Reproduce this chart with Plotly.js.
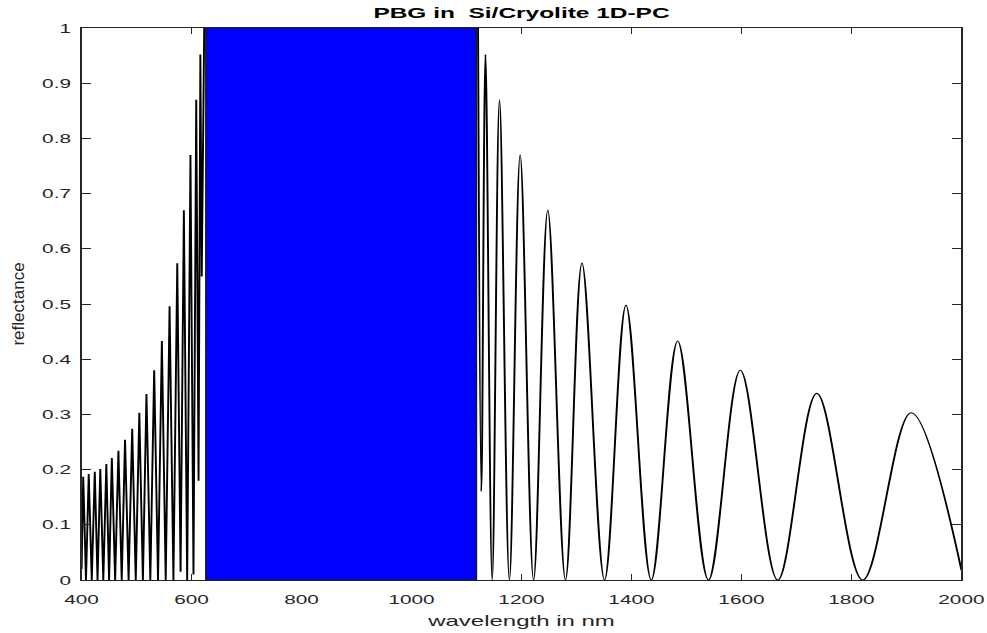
<!DOCTYPE html>
<html>
<head>
<meta charset="utf-8">
<script src="https://cdn.plot.ly/plotly-3.0.1.min.js"></script>
<style>
  html, body { margin: 0; padding: 0; background: #ffffff; overflow: hidden; }
  #wrap { width: 987px; height: 633px; overflow: hidden; }
  #plot { width: 617px; height: 633px; transform: scale(1.59968, 1); transform-origin: 0 0; }
</style>
</head>
<body>
<div id="wrap"><div id="plot"></div></div>
<script>
// Short-wavelength side of the spectrum (fringes up to the band edge and the plateau)
const wlShort = [400, 403, 408, 413, 418.5, 424, 429, 434, 439.5, 445,
                 450, 455, 461, 467, 473, 479, 485.5, 492, 498.5, 505,
                 511.5, 518, 525, 532, 539, 546, 553, 560, 567, 574,
                 580, 586, 592, 598, 603.5, 608.5, 612.7, 616, 618.5, 623,
                 1121];
const rShort = [0.02, 0.187, 0, 0.192, 0, 0.196, 0, 0.201, 0, 0.21,
                0, 0.221, 0, 0.234, 0, 0.254, 0, 0.274, 0, 0.303,
                0, 0.337, 0, 0.38, 0, 0.433, 0, 0.496, 0, 0.574,
                0.015, 0.67, 0, 0.77, 0.01, 0.87, 0.18, 0.952, 0.55, 1,
                1];

// Long-wavelength side of the spectrum (peaks and minima)
const wlLong = [1121, 1127, 1134.5, 1146.7, 1160, 1178, 1197.6, 1222,
                1247.8, 1280, 1310, 1351, 1390, 1436, 1484, 1540,
                1598, 1666, 1737, 1820.6, 1908.5, 2000];
const rLong = [1, 0.16, 0.952, 0, 0.87, 0, 0.77, 0,
               0.67, 0, 0.574, 0, 0.498, 0, 0.433, 0,
               0.38, 0, 0.338, 0, 0.303, 0.018];

// Photonic band gap
const gapEdges = [626, 1118];
const gapReflectance = [0, 1];

// Ticks
const xTickVals = [400, 600, 800, 1000, 1200, 1400, 1600, 1800, 2000];
const xTickText = ['400', '600', '800', '1000', '1200', '1400', '1600', '1800', '2000'];
const yTickVals = [0, 0.1, 0.2, 0.3, 0.4, 0.5, 0.6, 0.7, 0.8, 0.9, 1];
const yTickText = ['0', '0.1', '0.2', '0.3', '0.4', '0.5', '0.6', '0.7', '0.8', '0.9', '1'];

const K = 987 / 617;
const axisColor = '#262626';
const fontFam = 'Liberation Sans, Arial, Helvetica, sans-serif';

const traces = [
  { x: wlShort, y: rShort, type: 'scatter', mode: 'lines',
    line: { color: '#000000', width: 1.2, shape: 'linear' }, hoverinfo: 'skip' },
  { x: wlLong, y: rLong, type: 'scatter', mode: 'lines',
    line: { color: '#000000', width: 1.2, shape: 'spline', smoothing: 1 }, hoverinfo: 'skip' }
];

const layout = {
  width: 617, height: 633,
  margin: { l: 51, r: 16, t: 28, b: 53 },
  paper_bgcolor: '#ffffff', plot_bgcolor: '#ffffff',
  showlegend: false,
  font: { family: fontFam, size: 13, color: axisColor },
  title: { text: '<b>PBG in \u00a0Si/Cryolite 1D-PC</b>', font: { family: fontFam, size: 15.3, color: '#000000' },
           x: 0.5, xref: 'paper', xanchor: 'center', y: 1 - 13 / 633, yref: 'container', yanchor: 'middle' },
  xaxis: {
    range: [400, 2000], tickmode: 'array', tickvals: xTickVals, ticktext: xTickText,
    ticks: 'inside', ticklen: 6, tickwidth: 1, tickcolor: axisColor,
    showline: true, linecolor: axisColor, linewidth: 1, mirror: 'ticks',
    showgrid: false, zeroline: false, automargin: false,
    tickfont: { size: 13, color: axisColor }, ticklabelstandoff: 7,
    title: { text: 'wavelength in nm', font: { size: 15, color: axisColor }, standoff: 9 }
  },
  yaxis: {
    range: [0, 1], tickmode: 'array', tickvals: yTickVals, ticktext: yTickText,
    ticks: 'inside', ticklen: 6, tickwidth: 1, tickcolor: axisColor,
    showline: true, linecolor: axisColor, linewidth: 1, mirror: 'ticks',
    showgrid: false, zeroline: false, automargin: false,
    tickfont: { size: 13, color: axisColor }, ticklabelstandoff: 3,
    title: { text: 'reflectance', font: { size: 17, color: axisColor }, standoff: 7 }
  },
  shapes: [{
    type: 'rect', xref: 'x', yref: 'y', layer: 'above',
    x0: gapEdges[0], x1: gapEdges[1], y0: gapReflectance[0], y1: gapReflectance[1],
    fillcolor: '#0000ff', line: { color: '#1a1a1a', width: 1 }
  }]
};

Plotly.newPlot('plot', traces, layout, { staticPlot: true, displayModeBar: false }).then(function (gd) {
  // undo the horizontal stretch for the rotated y-axis title
  const t = gd.querySelector('.ytitle');
  if (t) {
    const x = parseFloat(t.getAttribute('x'));
    const y = parseFloat(t.getAttribute('y'));
    const tr = t.getAttribute('transform') || '';
    t.setAttribute('transform', 'translate(' + x + ',' + y + ') scale(' + (1 / K) + ',1) translate(' + (-x) + ',' + (-y) + ') ' + tr);
  }
});
</script>
</body>
</html>
